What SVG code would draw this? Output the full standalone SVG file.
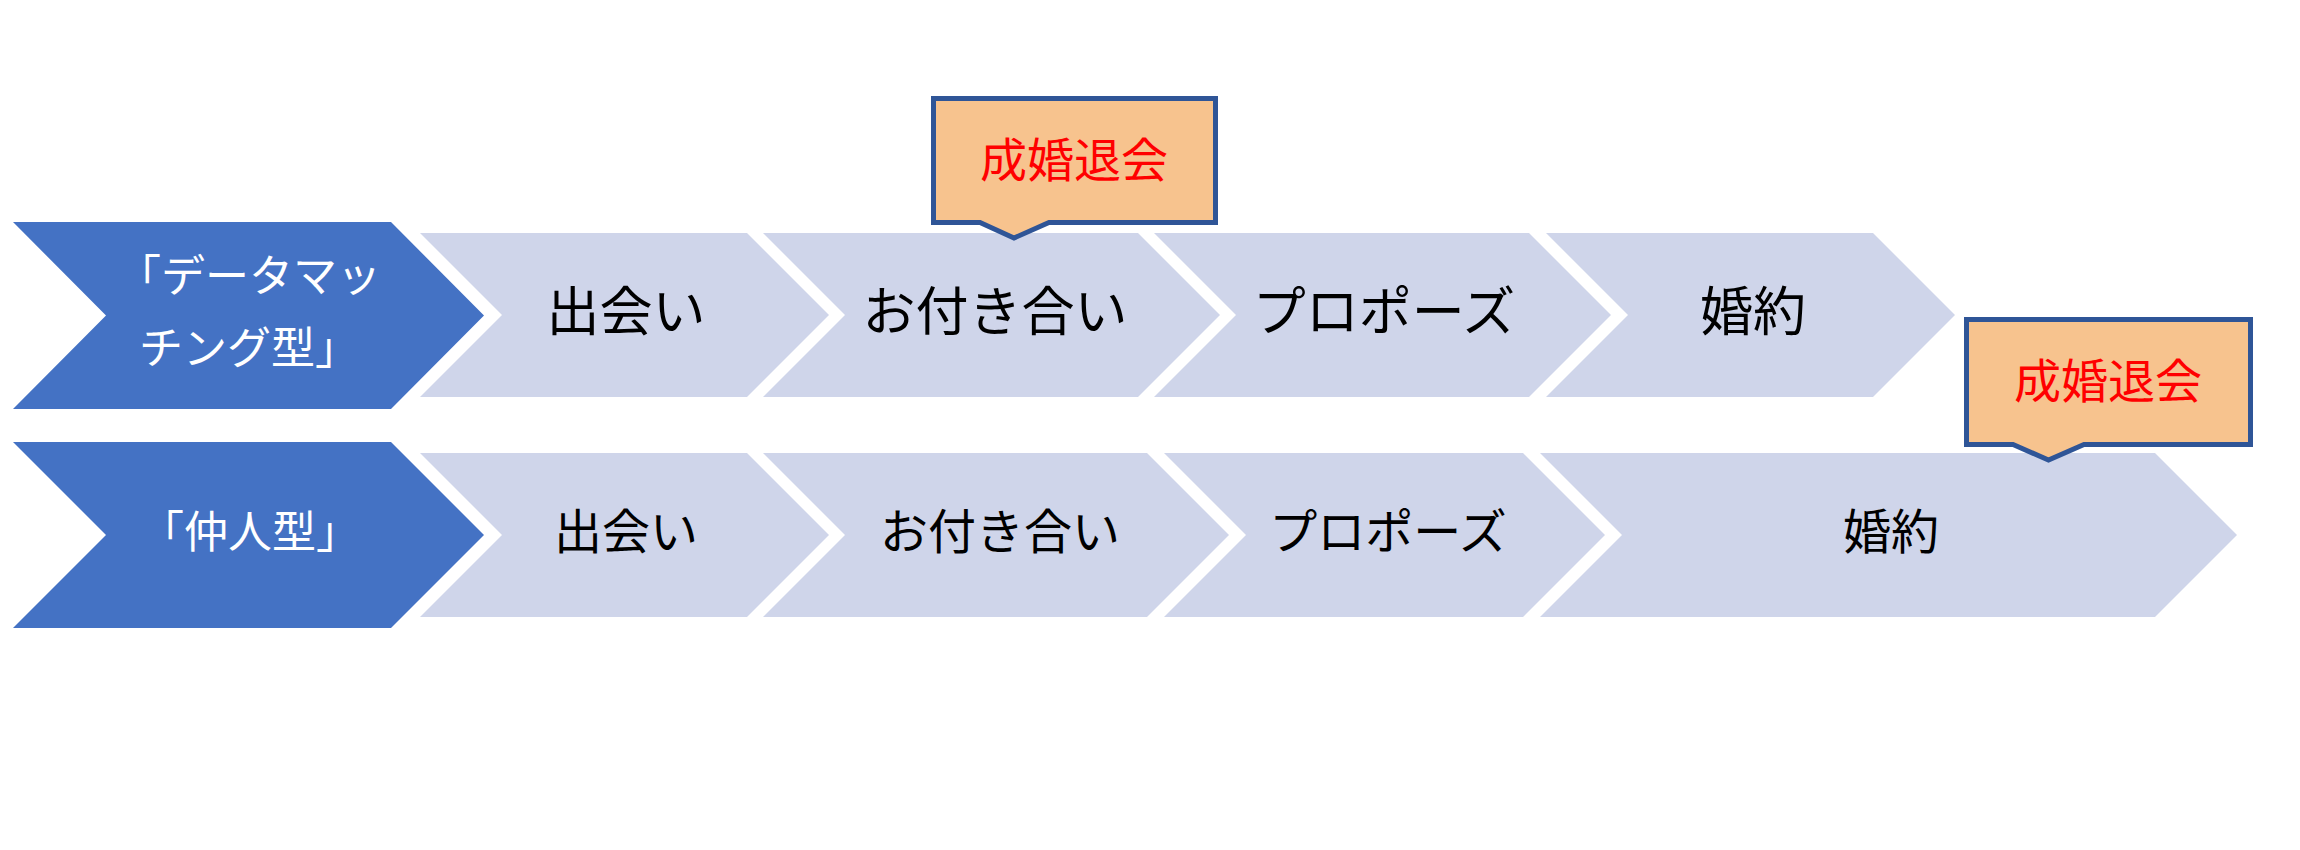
<svg xmlns="http://www.w3.org/2000/svg" width="2300" height="850" viewBox="0 0 2300 850">
<style>
.bg{fill:#ffffff}
.head{fill:#4472C4}
.step{fill:#CFD5EA}
.call{fill:#F7C38E;stroke:#2F5597;stroke-width:5;stroke-linejoin:miter}
text{font-family:"Liberation Serif","Noto Sans CJK JP",serif;text-anchor:middle}
.wt{fill:#ffffff;font-size:44px}
.t1{fill:#000000;font-size:53px}
.t2{fill:#000000;font-size:48px}
.rt{fill:#FF0000;font-size:47px}
</style>
<rect class="bg" x="0" y="0" width="2300" height="850"/>

<g id="row1-head">
<polygon class="head" points="13,222 391,222 484,315.5 391,409 13,409 106,315.5"/>
<text class="wt" x="249" y="292">「データマッ</text>
<text class="wt" x="249" y="364">チング型」</text>
</g>
<g id="row1-step1">
<polygon class="step" points="420,233 747,233 829,315 747,397 420,397 502,315"/>
<text class="t1" x="626" y="331">出会い</text>
</g>
<g id="row1-step2">
<polygon class="step" points="763,233 1138,233 1220,315 1138,397 763,397 845,315"/>
<text class="t1" x="995" y="331">お付き合い</text>
</g>
<g id="row1-step3">
<polygon class="step" points="1154,233 1529,233 1611,315 1529,397 1154,397 1236,315"/>
<text class="t1" x="1384" y="331">プロポーズ</text>
</g>
<g id="row1-step4">
<polygon class="step" points="1546,233 1873,233 1955,315 1873,397 1546,397 1628,315"/>
<text class="t1" x="1753" y="331">婚約</text>
</g>

<g id="row2-head">
<polygon class="head" points="13,442 391,442 484,535 391,628 13,628 106,535"/>
<text class="wt" x="250" y="548">「仲人型」</text>
</g>
<g id="row2-step1">
<polygon class="step" points="420,453 747,453 829,535 747,617 420,617 502,535"/>
<text class="t2" x="626" y="549">出会い</text>
</g>
<g id="row2-step2">
<polygon class="step" points="763,453 1147,453 1229,535 1147,617 763,617 845,535"/>
<text class="t2" x="1000" y="549">お付き合い</text>
</g>
<g id="row2-step3">
<polygon class="step" points="1164,453 1523,453 1605,535 1523,617 1164,617 1246,535"/>
<text class="t2" x="1388" y="549">プロポーズ</text>
</g>
<g id="row2-step4">
<polygon class="step" points="1540,453 2155,453 2237,535 2155,617 1540,617 1622,535"/>
<text class="t2" x="1891" y="549">婚約</text>
</g>

<g id="callout1">
<path class="call" d="M933.5,98.5 H1215.5 V222.5 H1049 L1014,238 L980,222.5 H933.5 Z"/>
<text class="rt" x="1074" y="177">成婚退会</text>
</g>
<g id="callout2">
<path class="call" d="M1966.5,319.5 H2250.5 V444.5 H2084 L2048.5,460 L2013,444.5 H1966.5 Z"/>
<text class="rt" x="2108" y="398">成婚退会</text>
</g>
</svg>
